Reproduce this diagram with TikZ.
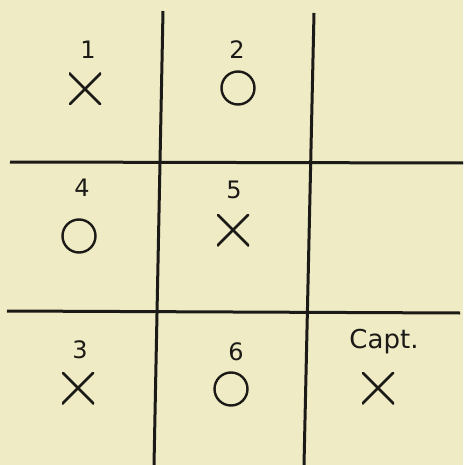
\documentclass[tikz,border=0pt]{standalone}
\usepackage{fontspec}
\setmainfont{DejaVu Sans}
\definecolor{paper}{RGB}{238,235,197}
\definecolor{ink}{RGB}{28,26,22}
\begin{document}
\begin{tikzpicture}[x=1pt,y=-1pt,
  grid/.style={ink,line width=3pt},
  lbl/.style={ink,font=\fontsize{24}{24}\selectfont,inner sep=0pt},
  xmark/.style={minimum size=32pt,inner sep=0pt,
     path picture={\draw[ink,line width=2.6pt]
       (path picture bounding box.south west)--(path picture bounding box.north east)
       (path picture bounding box.north west)--(path picture bounding box.south east);}},
  omark/.style={circle,draw=ink,line width=2.4pt,minimum size=33pt,inner sep=0pt}]
\fill[paper] (0,0) rectangle (463,465);
\useasboundingbox (0,0) rectangle (463,465);
% grid
\draw[grid] (163,11) -- (154,465);
\draw[grid] (314,13) -- (304,465);
\draw[grid] (10,162) -- (463,163);
\draw[grid] (7,311) -- (460,313);
% labels
\node[lbl] (l1) at (88,50) {1};
\node[lbl] (l2) at (237,50) {2};
\node[lbl] (l4) at (82,188) {4};
\node[lbl] (l5) at (234,190) {5};
\node[lbl] (l3) at (80,350) {3};
\node[lbl] (l6) at (236,352) {6};
\node[lbl,font=\fontsize{26}{26}\selectfont] (lc) at (384,342) {Capt.};
% marks
\node[xmark] (m1) at (85,89) {};
\node[omark] (m2) at (238,88) {};
\node[omark] (m4) at (79,236) {};
\node[xmark] (m5) at (233,230) {};
\node[xmark] (m3) at (78,388) {};
\node[omark] (m6) at (231,389) {};
\node[xmark] (mc) at (378,388) {};
\end{tikzpicture}
\end{document}
